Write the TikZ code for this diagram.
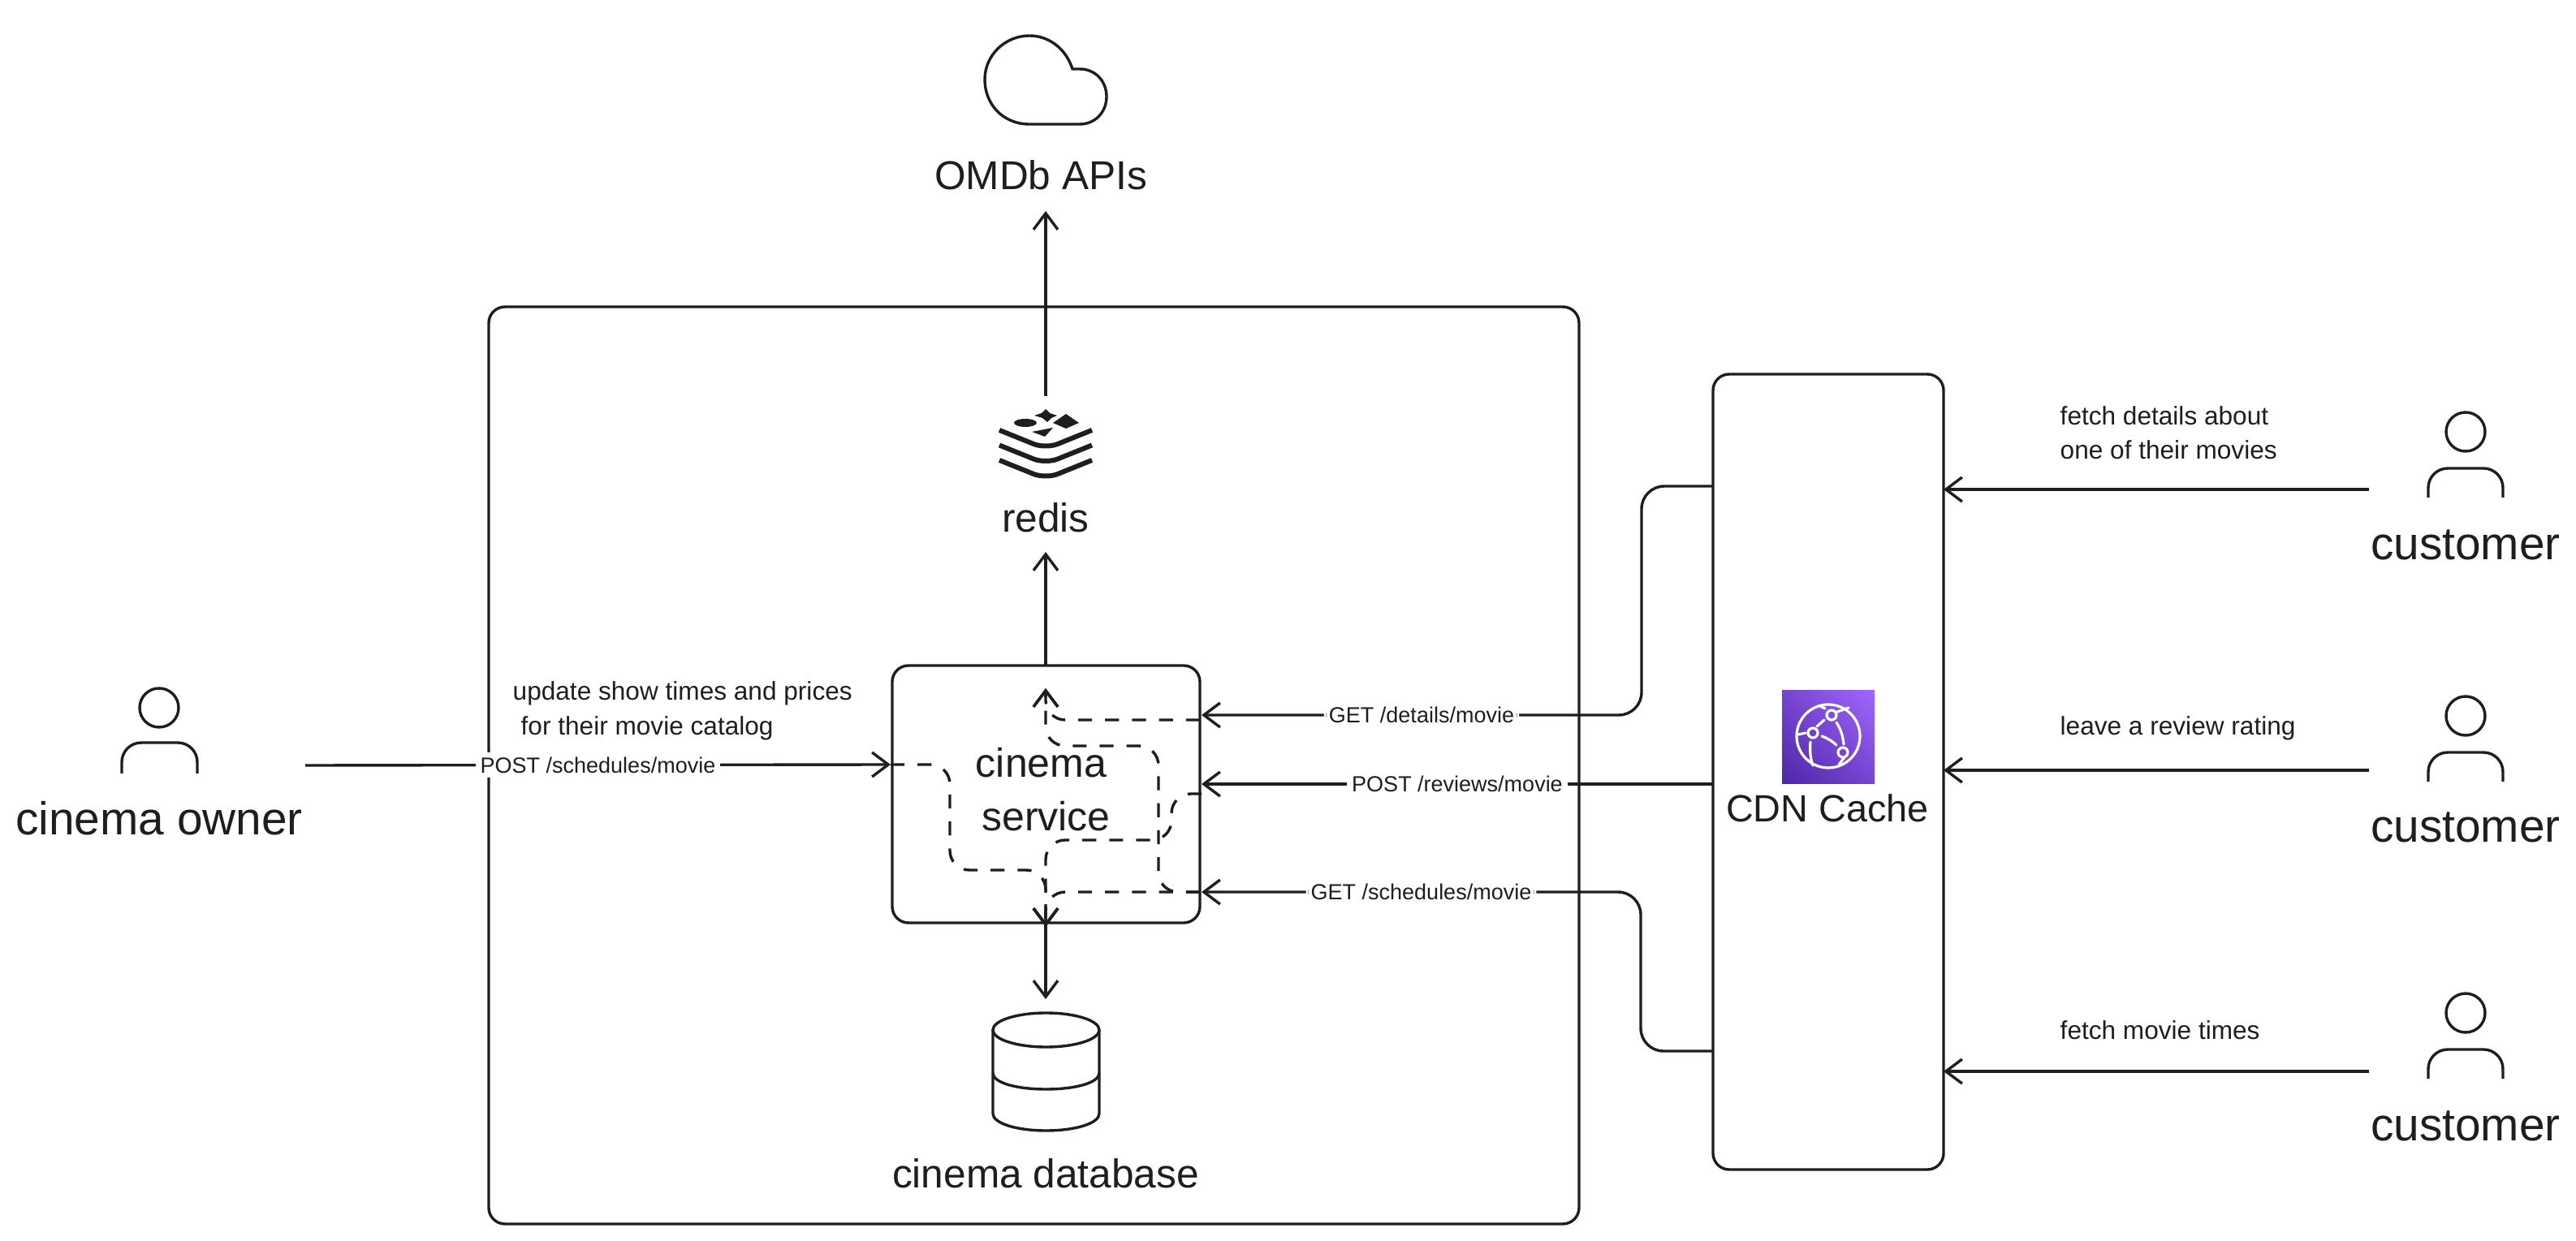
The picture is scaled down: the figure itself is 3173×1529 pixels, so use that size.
\documentclass[tikz,border=0pt]{standalone}
\usepackage{fontspec}
\setmainfont{Liberation Sans}
\usetikzlibrary{arrows.meta,shapes.geometric,shadings}
\definecolor{ink}{HTML}{1E1E1E}
\definecolor{cdnlow}{HTML}{4D27A8}
\definecolor{cdnmid}{HTML}{7745D0}
\definecolor{cdnhigh}{HTML}{A166FF}

\begin{document}
\begin{tikzpicture}[auto,x=.25pt,y=-.25pt,line width=.85pt,color=ink,
  >={Straight Barb[length=5pt,width=7.5pt]}]
\tikzstyle{box} = [rectangle, draw, rounded corners=5pt, inner sep=0pt, outer sep=0pt]
\tikzstyle{head} = [circle, draw, minimum size=12pt, inner sep=0pt]
\tikzstyle{title} = [font=\fontsize{12.4}{16.5}\selectfont, anchor=base, inner sep=0pt]
\tikzstyle{actor} = [font=\fontsize{14.2}{18}\selectfont, anchor=base, inner sep=0pt]
\tikzstyle{note} = [font=\fontsize{7.9}{10.6}\selectfont, anchor=west, align=left, inner sep=0pt]
\tikzstyle{call} = [font=\fontsize{6.75}{8}\selectfont, fill=white, inner sep=1.5pt, midway, anchor=center]
\tikzstyle{line} = [draw,->];
\tikzstyle{flow} = [draw,->,rounded corners=6pt,dash pattern=on 4.3pt off 4pt];
\tikzstyle{globe} = [draw=white, line width=.8pt, line cap=round];
\useasboundingbox (0,0) rectangle (3173,1529);

% boxes
\node [box, minimum width=335.75pt, minimum height=282.5pt] (system) at (1273.5,943) {};
\node [box, minimum width=94.75pt, minimum height=79.25pt, text depth=3pt,
  font=\fontsize{12.5}{16.5}\selectfont, align=center] (service) at (1288.5,978.5) {cinema\hspace*{3pt}\\service};
\node [box, minimum width=71pt, minimum height=245pt] (cdn) at (2252,951) {};

% cloud
\draw (1321,85) .. controls (1313,60) and (1292,44) .. (1268,44)
  .. controls (1238,44) and (1213,68) .. (1213,98)
  .. controls (1213,128) and (1235,153) .. (1268,153) -- (1330,153)
  .. controls (1349,153) and (1363,138) .. (1363,119)
  .. controls (1363,100) and (1349,85) .. (1330,85) -- cycle;
\node [title] (omdb) at (1282,234) {OMDb APIs};
\coordinate (omdbin) at (1288,260);

% redis
\fill (1263,521) ellipse [x radius=14, y radius=5];
\fill (1313,510) -- (1329,521) -- (1313,528) -- (1297,521) -- cycle;
\fill (1271,532) -- (1297,527) -- (1287,538) -- cycle;
\fill (1288,504) -- (1293,509) -- (1302,512) -- (1295,515) -- (1290,520)
  -- (1284,515) -- (1274,512) -- (1283,509) -- cycle;
\foreach \y in {530,548.5,567}
  \draw [line width=1.5pt, rounded corners=4pt] (1231,\y) -- (1288,\y+23) -- (1345,\y);
\node [title] (redis) at (1288,656) {redis};
\coordinate (redisout) at (1288,488);
\coordinate (redisin) at (1288,680);

% database
\draw (1288.5,1269) ellipse [x radius=65.5, y radius=21];
\draw (1223,1269) -- (1223,1372) .. controls (1223,1384) and (1252,1393) .. (1288.5,1393)
  .. controls (1325,1393) and (1354,1384) .. (1354,1372) -- (1354,1269);
\draw (1223,1322) .. controls (1223,1334) and (1252,1342) .. (1288.5,1342)
  .. controls (1325,1342) and (1354,1334) .. (1354,1322);
\node [title] (database) at (1288,1463) {cinema database};
\coordinate (dbin) at (1288,1231);

% cdn icon
\shade [lower left=cdnlow, upper right=cdnhigh, lower right=cdnmid, upper left=cdnmid]
  (2195,851) rectangle (2309,965);
\draw [globe] (2252,907) circle [radius=39];
\draw [globe] (2256,881) circle [radius=6];
\draw [globe] (2233,903) circle [radius=6];
\draw [globe] (2270,927) circle [radius=6];
\draw [globe] (2215,905) -- (2224,903);
\draw [globe] (2247,887) -- (2238,895);
\draw [globe] (2248,873) -- (2242,870);
\draw [globe] (2263,877) -- (2277,872);
\draw [globe] (2262,890) .. controls (2267,898) and (2270,906) .. (2271,917);
\draw [globe] (2244,907) .. controls (2250,909) and (2257,913) .. (2262,918);
\draw [globe] (2230,914) .. controls (2229,925) and (2230,935) .. (2233,943);
\draw [globe] (2272,933) -- (2265,942);
\node [title, font=\fontsize{11.7}{14}\selectfont] (cdnlabel) at (2251,1013) {CDN Cache};

% cinema owner
\node [head] (ownerhead) at (196,872) {};
\draw [rounded corners=6pt] (150,953) |- (243,915) -- (243,953);
\node [actor] (owner) at (196,1029) {cinema owner};

% customers
\node [head] (headone) at (3037,532) {};
\draw [rounded corners=6pt] (2991,613) |- (3083,577) -- (3083,613);
\node [actor] (customerone) at (3037,690) {customer};
\node [head] (headtwo) at (3037,882) {};
\draw [rounded corners=6pt] (2991,963) |- (3083,927) -- (3083,963);
\node [actor] (customertwo) at (3037,1037) {customer};
\node [head] (headthree) at (3037,1248) {};
\draw [rounded corners=6pt] (2991,1329) |- (3083,1293) -- (3083,1329);
\node [actor] (customerthree) at (3037,1405) {customer};

% notes
\node [note] (noteowner) at (630,876) {update show times and prices\\\hspace*{2.5pt}for their movie catalog};
\node [note] (noteone) at (2536,533) {fetch details about\\one of their movies};
\node [note] (notetwo) at (2536,897) {leave a review rating};
\node [note] (notethree) at (2536,1269) {fetch movie times};

% end points
\coordinate (ownerout) at (376,943);
\coordinate (svcleft) at (1097,942);
\coordinate (custone) at (2918,603);
\coordinate (custtwo) at (2918,949);
\coordinate (custthree) at (2918,1320);
\coordinate (cdnone) at (2394,603);
\coordinate (cdntwo) at (2394,949);
\coordinate (cdnthree) at (2394,1320);
\coordinate (cdntop) at (2110,599);
\coordinate (cdnmiddle) at (2110,966);
\coordinate (cdnbottom) at (2110,1295);
\coordinate (bendtopa) at (2022,599);
\coordinate (bendtopb) at (2022,881);
\coordinate (bendlowa) at (2021,1295);
\coordinate (bendlowb) at (2021,1099);
\coordinate (svctop) at (1480,881);
\coordinate (svcmiddle) at (1480,966);
\coordinate (svcbottom) at (1480,1099);

% solid arrows
\path [line] (redisout) -- (omdbin);
\path [line] (service.north -| redisin) -- (redisin);
\path [line] (service.south -| dbin) -- (dbin);
\path [line] (ownerout) -- node [call] {POST /schedules/movie} (svcleft);
\path [line] (custone) -- (cdnone);
\path [line] (custtwo) -- (cdntwo);
\path [line] (custthree) -- (cdnthree);
\path [line, rounded corners=7pt] (cdntop) -- (bendtopa) -- (bendtopb) -- node [call] {GET /details/movie} (svctop);
\path [line] (cdnmiddle) -- node [call] {POST /reviews/movie} (svcmiddle);
\path [line, rounded corners=7pt] (cdnbottom) -- (bendlowa) -- (bendlowb) -- node [call] {GET /schedules/movie} (svcbottom);

% paths through the service
\coordinate (upper) at (1288,848);
\coordinate (lower) at (1288,1142);
\path [flow] (1478,887) -| (upper);
\path [flow] (1478,1099) -| (1427,919) -| (upper);
\path [flow] (svcleft) -| (1170,1072) -| (lower);
\path [flow] (1478,1099) -| (lower);
\path [flow] (1480,978) -| (1443,1035) -| (lower);
\end{tikzpicture}
\end{document}
